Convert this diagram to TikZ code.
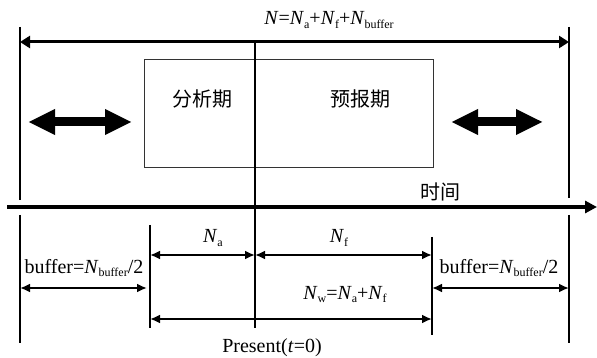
\documentclass[tikz,border=0pt]{standalone}
\usepackage{fontspec}
\setmainfont{Liberation Serif}
\newfontfamily\cjk{Noto Sans CJK SC}
\usetikzlibrary{arrows.meta}
\newcommand{\sub}[1]{\raisebox{-0.35ex}{\fontsize{12}{12}\selectfont #1}}

\begin{document}
\begin{tikzpicture}[x=1pt,y=-1pt,
  thin/.style={line width=1.2pt},
  dim/.style={line width=2.2pt,{Latex[length=10pt,width=9pt]}-{Latex[length=10pt,width=9pt]}},
  big/.style={line width=9pt,{Triangle[length=27pt,width=24pt]}-{Triangle[length=27pt,width=24pt]}},
  lbl/.style={font=\fontsize{20}{22}\selectfont,inner sep=0pt,anchor=base}]
\useasboundingbox (0,0) rectangle (597,358);
% end points
\coordinate (tl) at (20,42);
\coordinate (tr) at (569,42);
\coordinate (ax0) at (7,207);
\coordinate (ax1) at (597,207);
\coordinate (p0) at (255,42);
\coordinate (p1) at (255,328);
% outer and inner verticals
\draw[thin] (20,27) -- (20,200);
\draw[thin] (20,215) -- (20,343);
\draw[thin] (569,27) -- (569,198);
\draw[thin] (569,215) -- (569,343);
\draw[thin] (150,225) -- (150,328);
\draw[thin] (432,237) -- (432,335);
% windows
\draw[line width=1pt,black!80] (144,60) rectangle (433,168);
\node[lbl,anchor=center] (ana) at (202,99) {\cjk 分析期};
\node[lbl,anchor=center] (fc) at (360,99) {\cjk 预报期};
\draw[line width=1.6pt] (p0) -- (p1);
% total length
\draw[line width=3pt,{Triangle[length=10pt,width=12pt]}-{Triangle[length=10pt,width=12pt]}] (tl) -- (tr);
\node[lbl] (ntot) at (329,25) {\textit{N}=\textit{N}\sub{a}+\textit{N}\sub{f}+\textit{N}\sub{buffer}};
\draw[big] (28,122) -- (132,122);
\draw[big] (451,122) -- (543,122);
% time axis
\draw[line width=4pt,-{Triangle[length=12pt,width=12pt]}] (ax0) -- (ax1);
\node[lbl,anchor=center] (time) at (440,192) {\cjk 时间};
% windows below axis
\coordinate (a0) at (150,255);
\coordinate (a1) at (255,255);
\coordinate (f1) at (432,255);
\coordinate (bl0) at (20,288);
\coordinate (bl1) at (147,288);
\coordinate (br0) at (432,288);
\coordinate (br1) at (569,288);
\coordinate (w0) at (150,319);
\coordinate (w1) at (432,319);
\draw[dim] (a0) -- (a1);
\draw[dim] (a1) -- (f1);
\draw[dim] (bl0) -- (bl1);
\draw[dim] (br0) -- (br1);
\draw[dim] (w0) -- (w1);
\node[lbl] (na) at (213,243) {\textit{N}\sub{a}};
\node[lbl] (nf) at (339,243) {\textit{N}\sub{f}};
\node[lbl] (bufl) at (84,273) {buffer=\textit{N}\sub{buffer}/2};
\node[lbl] (bufr) at (499,273) {buffer=\textit{N}\sub{buffer}/2};
\node[lbl] (nw) at (345,299) {\textit{N}\sub{w}=\textit{N}\sub{a}+\textit{N}\sub{f}};
\node[lbl] (now) at (272,352) {Present(\textit{t}=0)};
\end{tikzpicture}
\end{document}
